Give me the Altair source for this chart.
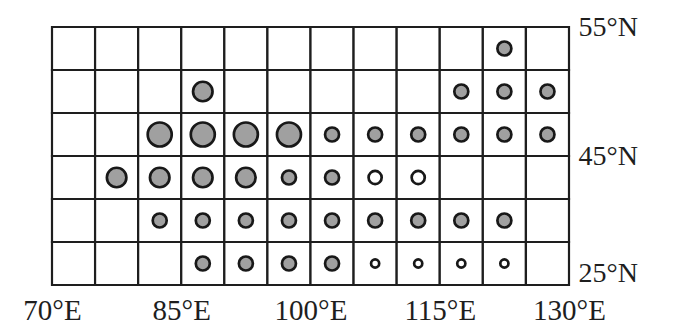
import altair as alt
import pandas as pd

# grid cells: 12 columns of 5° longitude (70°E–130°E), 6 rows
cell_lons = [70, 75, 80, 85, 90, 95, 100, 105, 110, 115, 120, 125]
cell_rows = [0, 1, 2, 3, 4, 5]  # 0 = bottom row

# circles: west edge of the cell's longitude, row index, kind
circ_lon = [120,
            85, 115, 120, 125,
            80, 85, 90, 95, 100, 105, 110, 115, 120, 125,
            75, 80, 85, 90, 95, 100, 105, 110,
            80, 85, 90, 95, 100, 105, 110, 115, 120,
            85, 90, 95, 100, 105, 110, 115, 120]
circ_row = [5,
            4, 4, 4, 4,
            3, 3, 3, 3, 3, 3, 3, 3, 3, 3,
            2, 2, 2, 2, 2, 2, 2, 2,
            1, 1, 1, 1, 1, 1, 1, 1, 1,
            0, 0, 0, 0, 0, 0, 0, 0]
circ_kind = ["S",
             "M", "S", "S", "S",
             "L", "L", "L", "L", "S", "S", "S", "S", "S", "S",
             "M", "M", "M", "M", "S", "S", "H", "H",
             "S", "S", "S", "S", "S", "S", "S", "S", "S",
             "S", "S", "S", "S", "h", "h", "h", "h"]

kinds = ["L", "M", "S", "H", "h"]
kind_sizes = [576, 380, 196, 172, 66]
kind_fills = ["#a0a0a0", "#a0a0a0", "#a0a0a0", "#ffffff", "#ffffff"]

x_ticks = [70, 85, 100, 115, 130]
x_labels = ["70°E", "85°E", "100°E", "115°E", "130°E"]
y_ticks = [0, 3, 6]
y_labels = ["25°N", "45°N", "55°N"]

cells = pd.DataFrame([{"lon": lo, "row": r} for lo in cell_lons for r in cell_rows])
circles = pd.DataFrame({"lon": circ_lon, "row": circ_row, "kind": circ_kind})

def label_expr(vals, labs):
    expr = "''"
    for v, l in zip(vals, labs):
        expr = f"datum.value == {v} ? '{l}' : ({expr})"
    return expr

FONT = "Liberation Serif"
xscale = alt.Scale(domain=[70, 130], nice=False, zero=False)
yscale = alt.Scale(domain=[0, 6], nice=False, zero=False)

xaxis = alt.Axis(values=x_ticks, labelExpr=label_expr(x_ticks, x_labels), ticks=False,
                 tickSize=0, domain=False, grid=False, title=None, labelFont=FONT,
                 labelFontSize=29, labelColor="#1e1e1e", labelPadding=11,
                 labelFlush=False, labelOverlap=False)
yaxis = alt.Axis(orient="right", values=y_ticks, labelExpr=label_expr(y_ticks, y_labels),
                 ticks=False, tickSize=0, domain=False, grid=False, title=None,
                 labelFont=FONT, labelFontSize=28, labelColor="#1e1e1e", labelPadding=9,
                 labelFlush=False, labelOverlap=False,
                 labelOffset={"condition": {"test": "datum.value == 0", "value": -12}, "value": 0})

grid = alt.Chart(cells).transform_calculate(
    lon2="datum.lon + 5", row2="datum.row + 1"
).mark_rect(fill="white", stroke="#1e1e1e", strokeWidth=2.2).encode(
    x=alt.X("lon:Q", scale=xscale, axis=xaxis),
    x2="lon2:Q",
    y=alt.Y("row:Q", scale=yscale, axis=yaxis),
    y2="row2:Q",
)

dots = alt.Chart(circles).transform_calculate(
    xc="datum.lon + 2.5", yc="datum.row + 0.5"
).mark_point(shape="circle", filled=True, opacity=1, stroke="#181818", strokeWidth=2.7).encode(
    x=alt.X("xc:Q", scale=xscale),
    y=alt.Y("yc:Q", scale=yscale),
    fill=alt.Fill("kind:N", scale=alt.Scale(domain=kinds, range=kind_fills), legend=None),
    size=alt.Size("kind:N", scale=alt.Scale(type="ordinal", domain=kinds, range=kind_sizes), legend=None),
)

chart = alt.layer(grid, dots).properties(
    width=517, height=258,
    autosize=alt.AutoSizeParams(type="none"),
    padding={"left": 52, "top": 27, "right": 119, "bottom": 46},
    background="white",
).configure_view(stroke=None)

chart.save("out.html", embed_options={"renderer": "svg", "actions": False})
